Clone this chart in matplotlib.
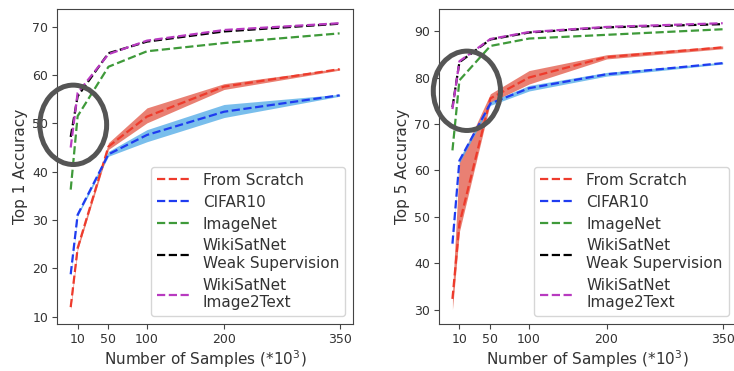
#!/usr/bin/env python3
"""accuracy vs number of training samples, top 1 and top 5"""

import numpy as np
import matplotlib.pyplot as plt
from matplotlib.patches import Ellipse

samples = [1, 10, 50, 100, 200, 350]
xticks = [10, 50, 100, 200, 350]
labels = ['From Scratch', 'CIFAR10', 'ImageNet',
          'WikiSatNet\nWeak Supervision', 'WikiSatNet\nImage2Text']
colors = ['#ee3b2c', '#1f3cf0', '#3f9a3a', '#000000', '#b83ac0']

# top 1 accuracy
top1_scratch = [12.0, 24.2, 45.2, 51.4, 57.6, 61.2]
top1_cifar = [18.8, 31.1, 43.6, 47.6, 52.4, 55.8]
top1_imagenet = [36.3, 51.5, 61.7, 64.9, 66.6, 68.6]
top1_weak = [47.2, 55.6, 64.5, 66.9, 69.0, 70.6]
top1_i2t = [45.0, 56.3, 64.3, 67.1, 69.3, 70.7]
top1_scratch_lo = [11.5, 23.8, 44.6, 50.1, 57.0, 61.0]
top1_scratch_hi = [12.5, 24.8, 46.0, 53.2, 58.2, 61.4]
top1_cifar_lo = [18.5, 30.8, 43.2, 46.2, 51.2, 55.6]
top1_cifar_hi = [19.1, 31.4, 44.2, 48.7, 53.9, 56.0]

# top 5 accuracy
top5_scratch = [32.3, 48.5, 75.5, 80.0, 84.4, 86.5]
top5_cifar = [44.2, 62.1, 74.4, 77.7, 80.7, 83.1]
top5_imagenet = [64.3, 79.4, 86.8, 88.4, 89.2, 90.4]
top5_weak = [73.6, 83.3, 88.2, 89.7, 90.8, 91.5]
top5_i2t = [73.2, 83.5, 88.3, 89.8, 90.9, 91.7]
top5_scratch_lo = [30.0, 46.8, 74.6, 78.6, 84.0, 86.2]
top5_scratch_hi = [33.5, 62.0, 76.5, 81.5, 84.9, 86.8]
top5_cifar_lo = [43.8, 61.6, 74.0, 77.1, 80.3, 82.9]
top5_cifar_hi = [44.6, 62.6, 74.8, 78.3, 81.1, 83.3]

plt.rcParams['text.color'] = '#333333'
plt.rcParams['axes.labelcolor'] = '#333333'
plt.rcParams['xtick.color'] = '#444444'
plt.rcParams['ytick.color'] = '#444444'
plt.rcParams['xtick.labelcolor'] = '#333333'
plt.rcParams['ytick.labelcolor'] = '#333333'
plt.rcParams['axes.edgecolor'] = '#444444'


def panel(ax, series, bands, ylabel, yticks, circle):
    """draw one accuracy panel"""
    x = np.array(samples)
    ax.fill_between(x, bands[0][0], bands[0][1], color='#e46150',
                    alpha=0.8, lw=0)
    ax.fill_between(x, bands[1][0], bands[1][1], color='#58aee8',
                    alpha=0.8, lw=0)
    for ys, c, lab in zip(series, colors, labels):
        ax.plot(x, ys, '--', color=c, lw=1.6, label=lab)
    ax.set_xticks(xticks)
    ax.set_yticks(yticks)
    ax.tick_params(labelsize=9, pad=3)
    ax.set_xlabel('Number of Samples (*10$^3$)', fontsize=11, labelpad=2)
    ax.set_ylabel(ylabel, fontsize=11, labelpad=3)
    ax.legend(loc='lower right', fontsize=11, handlelength=2.2,
              labelspacing=0.45, borderpad=0.4, edgecolor='#cccccc')
    ax.add_patch(Ellipse(circle, 0.226, 0.252, transform=ax.transAxes,
                         fill=False, ec='#555555', lw=3.6, clip_on=False,
                         zorder=5))


fig = plt.figure(figsize=(7.34, 3.71), dpi=100)
ax1 = fig.add_axes([0.078, 0.127, 0.403, 0.849])
ax2 = fig.add_axes([0.598, 0.127, 0.405, 0.849])

panel(ax1,
      [top1_scratch, top1_cifar, top1_imagenet, top1_weak, top1_i2t],
      [(top1_scratch_lo, top1_scratch_hi), (top1_cifar_lo, top1_cifar_hi)],
      'Top 1 Accuracy', range(10, 71, 10), (0.054, 0.632))
panel(ax2,
      [top5_scratch, top5_cifar, top5_imagenet, top5_weak, top5_i2t],
      [(top5_scratch_lo, top5_scratch_hi), (top5_cifar_lo, top5_cifar_hi)],
      'Top 5 Accuracy', range(30, 91, 10), (0.094, 0.74))

fig.savefig('out.png', dpi=100)
